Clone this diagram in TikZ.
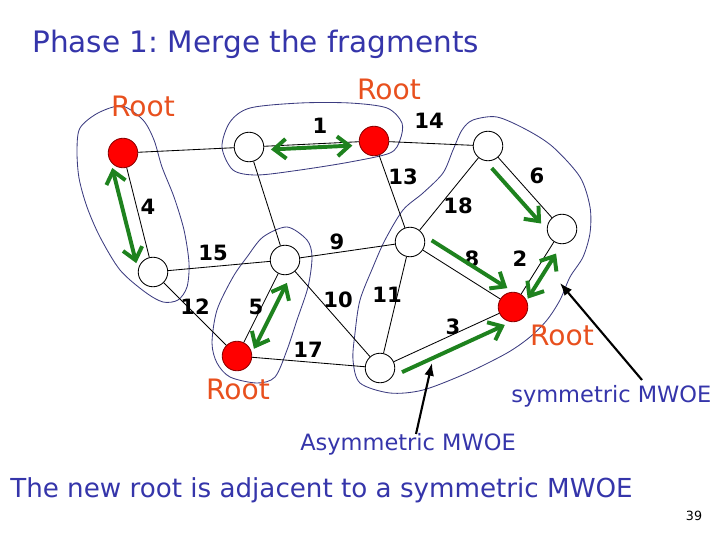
\documentclass[tikz,border=0pt]{standalone}
\usepackage{fontspec}
\setmainfont{DejaVu Sans}
\usetikzlibrary{arrows.meta, calc}
\frenchspacing
\definecolor{cblue}{HTML}{3535AA}
\definecolor{corange}{HTML}{E8501E}
\definecolor{cgreen}{HTML}{1E821E}
\definecolor{cnavy}{HTML}{3C3C80}
\tikzset{
  vertex/.style={circle, draw=black, fill=white, line width=0.6pt, minimum size=21pt, inner sep=0pt},
  rootv/.style={vertex, fill=red, draw=red!55!black},
  edge/.style={draw=black, line width=0.6pt},
  wt/.style={font=\bfseries\fontsize{15}{15}\selectfont, inner sep=0pt},
  rootlbl/.style={text=corange, font=\fontsize{20}{20}\selectfont, inner sep=0pt},
  frag/.style={draw=cnavy, line width=0.6pt},
  mwoe/.style={draw=cgreen, line width=2.8pt, -{Straight Barb[length=8.5pt, width=14pt]}},
  mwoeboth/.style={mwoe, {Straight Barb[length=8.5pt, width=14pt]}-{Straight Barb[length=8.5pt, width=14pt]}},
  pointer/.style={draw=black, line width=1.5pt, -{Latex[length=9pt, width=7pt]}},
  bluetxt/.style={text=cblue, inner sep=0pt},
}

\begin{document}
\begin{tikzpicture}[x=0.025cm, y=-0.025cm]
  \useasboundingbox (0,0) rectangle (720,540);
  % fragments
  \draw[frag] plot[smooth cycle] coordinates {(80,128) (98,113) (122,106) (143,120) (154,140) (162,167) (174,197) (184,230) (189,263) (187,287) (178,300) (163,302) (145,292) (120,270) (100,237) (87,207) (79,178) (77,150)};
  \draw[frag] plot[smooth cycle] coordinates {(222,147) (230,122) (250,108) (300,103) (350,103) (387,108) (402,123) (400,140) (390,153) (350,162) (300,170) (257,175) (233,170)};
  \draw[frag] plot[smooth cycle] coordinates {(287,227) (307,240) (312,257) (308,287) (297,320) (287,350) (275,377) (257,383) (230,377) (217,363) (212,343) (217,310) (233,277) (247,257) (263,237)};
  \draw[frag] plot[smooth cycle] coordinates {(497,117) (527,130) (553,147) (580,177) (590,207) (590,233) (583,257) (570,277) (560,300) (547,320) (530,337) (507,353) (467,373) (423,390) (390,393) (360,383) (353,360) (355,333) (360,300) (373,267) (385,240) (403,210) (423,193) (443,173) (453,150) (462,130) (473,120)};
  % vertices
  \node[rootv] (A) at (123,153) {};
  \node[vertex] (B) at (153,272) {};
  \node[vertex] (C) at (249,147) {};
  \node[rootv] (D) at (374,141) {};
  \node[vertex] (E) at (488,146) {};
  \node[vertex] (F) at (562,229) {};
  \node[vertex] (G) at (410,242) {};
  \node[rootv] (H) at (513,307) {};
  \node[vertex] (I) at (285,260) {};
  \node[rootv] (J) at (237,356) {};
  \node[vertex] (K) at (380,368) {};
  % edges
  \draw[edge] (A) -- (C);
  \draw[edge] (A) -- (B);
  \draw[edge] (C) -- (D);
  \draw[edge] (D) -- (E);
  \draw[edge] (D) -- (G);
  \draw[edge] (E) -- (G);
  \draw[edge] (E) -- (F);
  \draw[edge] (G) -- (H);
  \draw[edge] (F) -- (H);
  \draw[edge] (G) -- (I);
  \draw[edge] (C) -- (I);
  \draw[edge] (B) -- (I);
  \draw[edge] (B) -- (J);
  \draw[edge] (I) -- (J);
  \draw[edge] (I) -- (K);
  \draw[edge] (G) -- (K);
  \draw[edge] (J) -- (K);
  \draw[edge] (K) -- (H);
  % weights
  \node[wt] (w4) at (148,207) {4};
  \node[wt] (w1) at (320,126) {1};
  \node[wt] (w14) at (429,121) {14};
  \node[wt] (w13) at (403,177) {13};
  \node[wt] (w18) at (458,206) {18};
  \node[wt] (w6) at (537,176) {6};
  \node[wt] (w8) at (472,259) {8};
  \node[wt] (w2) at (520,259) {2};
  \node[wt] (w9) at (337,242) {9};
  \node[wt] (w15) at (213,253) {15};
  \node[wt] (w12) at (195,307) {12};
  \node[wt] (w5) at (256,307) {5};
  \node[wt] (w10) at (338,300) {10};
  \node[wt] (w11) at (387,295) {11};
  \node[wt] (w17) at (308,350) {17};
  \node[wt] (w3) at (453,327) {3};
  % minimum weight outgoing edges
  \draw[mwoeboth] ($(A)!8.5pt!(B)!10pt!-90:(B)$) -- ($(B)!9pt!(A)!10pt!90:(A)$);
  \draw[mwoeboth] ($(C)!15.5pt!(D)!2.5pt!-90:(D)$) -- ($(D)!15.5pt!(C)!2.5pt!90:(C)$);
  \draw[mwoe] ($(E)!13.5pt!(F)!8.5pt!-90:(F)$) -- ($(F)!12.8pt!(E)!8.5pt!90:(E)$);
  \draw[mwoe] ($(G)!12.4pt!(H)!9.2pt!90:(H)$) -- ($(H)!10.6pt!(G)!9.2pt!-90:(G)$);
  \draw[mwoeboth] ($(F)!17pt!(H)!5.7pt!90:(H)$) -- ($(H)!10.6pt!(F)!5.7pt!-90:(F)$);
  \draw[mwoeboth] ($(I)!14pt!(J)!8.5pt!90:(J)$) -- ($(J)!10pt!(I)!8.5pt!-90:(I)$);
  \draw[mwoe] ($(K)!13pt!(H)!9.2pt!-90:(H)$) -- ($(H)!10.6pt!(K)!9.2pt!90:(K)$);
  % roots
  \node[rootlbl] (rootA) at (143,106) {Root};
  \node[rootlbl] (rootD) at (389,89) {Root};
  \node[rootlbl] (rootH) at (562,335) {Root};
  \node[rootlbl] (rootJ) at (238,389) {Root};
  % texts and pointers
  \node[bluetxt, anchor=base west, font=\fontsize{21}{21}\selectfont] (title) at (32,52) {Phase 1: Merge the fragments};
  \node[bluetxt, anchor=base west, font=\fontsize{16}{16}\selectfont] (sym) at (511,402) {symmetric MWOE};
  \node[bluetxt, anchor=base west, font=\fontsize{16}{16}\selectfont] (asym) at (300,450) {Asymmetric MWOE};
  \node[bluetxt, anchor=base west, font=\fontsize{18.6}{18.6}\selectfont] (note) at (10,497) {The new root is adjacent to a symmetric MWOE};
  \node[inner sep=0pt, font=\fontsize{9}{9}\selectfont] (page) at (694,516) {39};
  \coordinate (symtail) at (642,380);
  \coordinate (symtip) at (560,283);
  \coordinate (asymtail) at (416,434);
  \coordinate (asymtip) at (432,363);
  \draw[pointer] (symtail) -- (symtip);
  \draw[pointer] (asymtail) -- (asymtip);
\end{tikzpicture}
\end{document}
